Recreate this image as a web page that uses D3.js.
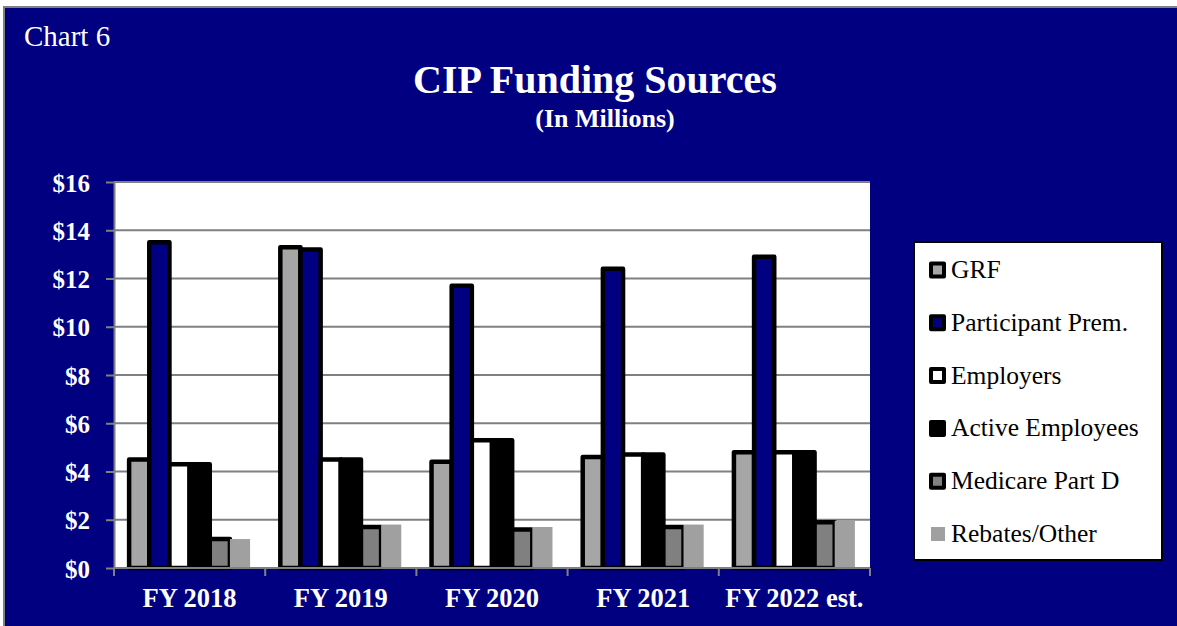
<!DOCTYPE html>
<meta charset="utf-8">
<style>
  body { margin: 0; background: #fff; }
  svg { display: block; }
  svg text { font-family: 'Liberation Serif', 'Times New Roman', serif; }
  .y .domain { stroke: #808080; stroke-width: 2px; }
  .y .tick line { stroke: #808080; stroke-width: 2px; }
  .y .tick text { fill: #fff; font-weight: bold; }
  .grid line { stroke: #808080; stroke-width: 2px; }
</style>
<script src="https://d3js.org/d3.v7.min.js"></script>
<div id="chart"></div>
<script>
  // values, in millions
  const categories = ["FY 2018", "FY 2019", "FY 2020", "FY 2021", "FY 2022 est."];
  const seriesNames = ["GRF", "Participant Prem.", "Employers", "Active Employees", "Medicare Part D", "Rebates/Other"];
  const grf         = [4.5, 13.3, 4.4, 4.6, 4.8];
  const participant = [13.5, 13.2, 11.7, 12.4, 12.9];
  const employers   = [4.3, 4.5, 5.3, 4.7, 4.8];
  const active      = [4.3, 4.5, 5.3, 4.7, 4.8];
  const medicare    = [1.2, 1.7, 1.6, 1.7, 1.9];
  const rebates     = [1.2, 1.8, 1.7, 1.8, 1.95];
  const yTicks = [0, 2, 4, 6, 8, 10, 12, 14, 16];

  const seriesValues = [grf, participant, employers, active, medicare, rebates];
  const fills = ["#a6a6a6", "#000080", "#ffffff", "#000000", "#808080", "#a0a0a0"];
  const bordered = [true, true, true, true, true, false];

  const W = 1177, H = 626;
  const plot = {left: 114, right: 870, top: 182, bottom: 568};

  const svg = d3.select("#chart").append("svg")
      .attr("width", W).attr("height", H);

  // navy background with grey frame
  svg.append("rect")
      .attr("x", 4).attr("y", 7).attr("width", W + 10).attr("height", H + 10)
      .attr("fill", "#000080").attr("stroke", "#808080").attr("stroke-width", 2);

  svg.append("text").attr("x", 24).attr("y", 46).text("Chart 6")
      .attr("fill", "#fff").style("font-size", "29px");
  svg.append("text").attr("x", 595).attr("y", 93).text("CIP Funding Sources")
      .attr("fill", "#fff").attr("text-anchor", "middle")
      .style("font-size", "40px").style("font-weight", "bold");
  svg.append("text").attr("x", 605).attr("y", 127).text("(In Millions)")
      .attr("fill", "#fff").attr("text-anchor", "middle")
      .style("font-size", "26px").style("font-weight", "bold");

  // plot area
  svg.append("rect")
      .attr("x", plot.left).attr("y", plot.top)
      .attr("width", plot.right - plot.left).attr("height", plot.bottom - plot.top)
      .attr("fill", "#fff");

  const x0 = d3.scaleBand()
      .domain(categories)
      .range([plot.left, plot.right])
      .paddingInner(0.2)
      .paddingOuter(0.1);

  const x1 = d3.scaleBand()
      .domain(d3.range(seriesNames.length))
      .range([0, x0.bandwidth()]);

  const y = d3.scaleLinear()
      .domain([0, 16])
      .range([plot.bottom, plot.top]);

  // gridlines
  svg.append("g").attr("class", "grid")
    .selectAll("line")
    .data(yTicks.filter(d => d > 0))
    .join("line")
      .attr("x1", plot.left).attr("x2", plot.right)
      .attr("y1", d => y(d)).attr("y2", d => y(d));

  // bars, series in order so later borders lie on top
  seriesValues.forEach(function(vals, s) {
    svg.append("g")
      .selectAll("rect")
      .data(vals)
      .join("rect")
        .attr("x", (d, i) => x0(categories[i]) + x1(s))
        .attr("y", d => y(d))
        .attr("width", x1.bandwidth())
        .attr("height", d => y(0) - y(d))
        .attr("fill", fills[s])
        .attr("stroke", bordered[s] ? "#000" : "none")
        .attr("stroke-width", 4.5)
        .attr("stroke-linejoin", "round");
  });

  // y axis
  const yAxis = svg.append("g")
      .attr("class", "y")
      .attr("transform", `translate(${plot.left},0)`)
      .call(d3.axisLeft(y).tickValues(yTicks).tickSize(8).tickSizeOuter(0).tickPadding(16)
        .tickFormat(d => "$" + d));
  yAxis.attr("font-family", null).attr("font-size", null);
  yAxis.selectAll(".tick text").style("font-size", "25px").attr("dy", "0.36em");

  // x axis: ticks between categories
  const xAxisG = svg.append("g")
      .attr("transform", `translate(0,${plot.bottom})`);
  xAxisG.append("line")
      .attr("x1", plot.left).attr("x2", plot.right)
      .attr("stroke", "#808080").attr("stroke-width", 2);
  const bounds = categories.map(c => x0(c) - x0.step() * x0.paddingInner() / 2)
      .concat([plot.right]);
  xAxisG.selectAll(".sep")
    .data(bounds)
    .join("line")
      .attr("class", "sep")
      .attr("x1", d => d).attr("x2", d => d)
      .attr("y1", 0).attr("y2", 8)
      .attr("stroke", "#808080").attr("stroke-width", 2);
  xAxisG.selectAll(".lab")
    .data(categories)
    .join("text")
      .attr("class", "lab")
      .attr("x", d => x0(d) + x0.bandwidth() / 2)
      .attr("y", 39)
      .attr("text-anchor", "middle")
      .attr("fill", "#fff")
      .style("font-size", "26.5px").style("font-weight", "bold")
      .text(d => d);

  // legend
  const legend = svg.append("g");
  legend.append("rect")
      .attr("x", 914).attr("y", 242).attr("width", 248).attr("height", 318)
      .attr("fill", "#fff").attr("stroke", "#000").attr("stroke-width", 2);

  seriesNames.forEach(function(name, s) {
    const baseY = 278 + s * 52.8;
    if (bordered[s]) {
      legend.append("rect")
          .attr("x", 931).attr("y", baseY - 14.5)
          .attr("width", 13).attr("height", 13)
          .attr("fill", fills[s]).attr("stroke", "#000").attr("stroke-width", 4)
          .attr("stroke-linejoin", "round");
    } else {
      legend.append("rect")
          .attr("x", 931).attr("y", baseY - 15)
          .attr("width", 14).attr("height", 14)
          .attr("fill", fills[s]);
    }
    legend.append("text")
        .attr("x", 951).attr("y", baseY)
        .text(name)
        .style("font-size", "25.5px").attr("fill", "#000");
  });
</script>
